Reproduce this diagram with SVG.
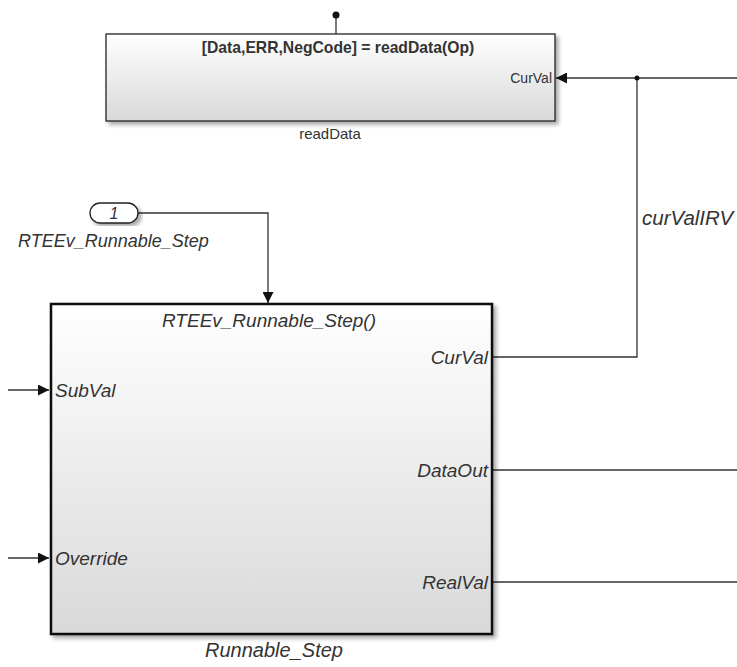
<svg xmlns="http://www.w3.org/2000/svg" width="737" height="667" viewBox="0 0 737 667">
<defs>
<linearGradient id="gfill" x1="0" y1="0" x2="0" y2="1">
<stop offset="0" stop-color="#ffffff"/>
<stop offset="1" stop-color="#d9d9d9"/>
</linearGradient>
<filter id="shadow" x="-5%" y="-5%" width="115%" height="120%">
<feGaussianBlur in="SourceAlpha" stdDeviation="2"/>
<feOffset dx="3" dy="3" result="b"/>
<feComponentTransfer><feFuncA type="linear" slope="0.35"/></feComponentTransfer>
<feMerge><feMergeNode/><feMergeNode in="SourceGraphic"/></feMerge>
</filter>
<marker id="arrow" viewBox="0 0 10 10" refX="10" refY="5" markerWidth="11" markerHeight="11" markerUnits="userSpaceOnUse" orient="auto">
<path d="M0,0 L10,5 L0,10 z" fill="#111"/>
</marker>
</defs>
<style>
.line{fill:none;stroke:#333;stroke-width:1.3}
.lbl{font-family:"Liberation Sans",Arial,sans-serif;fill:#333}
.it{font-style:italic}
.port{font-family:"Liberation Sans",Arial,sans-serif;font-style:italic;font-size:19px;fill:#333}
</style>
<rect width="737" height="667" fill="#ffffff"/>

<g id="connectors">
<line class="line" x1="336" y1="15" x2="336" y2="34"/>
<circle cx="336" cy="15" r="3.5" fill="#111"/>
<line class="line" x1="737" y1="78" x2="556" y2="78" marker-end="url(#arrow)"/>
<polyline class="line" points="492,357 637,357 637,78"/>
<circle cx="637" cy="78" r="2.5" fill="#111"/>
<polyline class="line" points="138,213 268,213 268,303" marker-end="url(#arrow)"/>
<line class="line" x1="8" y1="390" x2="49" y2="390" marker-end="url(#arrow)"/>
<line class="line" x1="8" y1="558" x2="49" y2="558" marker-end="url(#arrow)"/>
<line class="line" x1="492" y1="470" x2="737" y2="470"/>
<line class="line" x1="492" y1="582" x2="737" y2="582"/>
<text class="lbl it" x="642" y="225" font-size="20.5">curValIRV</text>
</g>

<g id="readData">
<rect x="106" y="34" width="449" height="87" fill="url(#gfill)" stroke="#222" stroke-width="1.3" filter="url(#shadow)"/>
<text class="lbl" x="338" y="53" font-size="15.7" font-weight="bold" text-anchor="middle" fill="#222">[Data,ERR,NegCode] = readData(Op)</text>
<text class="lbl" x="552" y="83" font-size="14" text-anchor="end">CurVal</text>
<text class="lbl" x="330" y="139" font-size="15" text-anchor="middle">readData</text>
</g>

<g id="inport1">
<rect x="90" y="203" width="48" height="20" rx="10" ry="10" fill="#fff" stroke="#222" stroke-width="1.3" filter="url(#shadow)"/>
<text class="lbl it" x="114" y="219" font-size="16" text-anchor="middle">1</text>
<text class="lbl it" x="18" y="247" font-size="18">RTEEv_Runnable_Step</text>
</g>

<g id="Runnable_Step">
<rect x="51" y="304" width="441" height="330" fill="url(#gfill)" stroke="#111" stroke-width="2.5" filter="url(#shadow)"/>
<text class="port" x="269" y="327" font-size="20.8" text-anchor="middle">RTEEv_Runnable_Step()</text>
<text class="port" x="55" y="397">SubVal</text>
<text class="port" x="55" y="565">Override</text>
<text class="port" x="488" y="364" text-anchor="end">CurVal</text>
<text class="port" x="488" y="477" text-anchor="end">DataOut</text>
<text class="port" x="488" y="589" text-anchor="end">RealVal</text>
<text class="lbl it" x="274" y="657" font-size="20" text-anchor="middle">Runnable_Step</text>
</g>
</svg>
